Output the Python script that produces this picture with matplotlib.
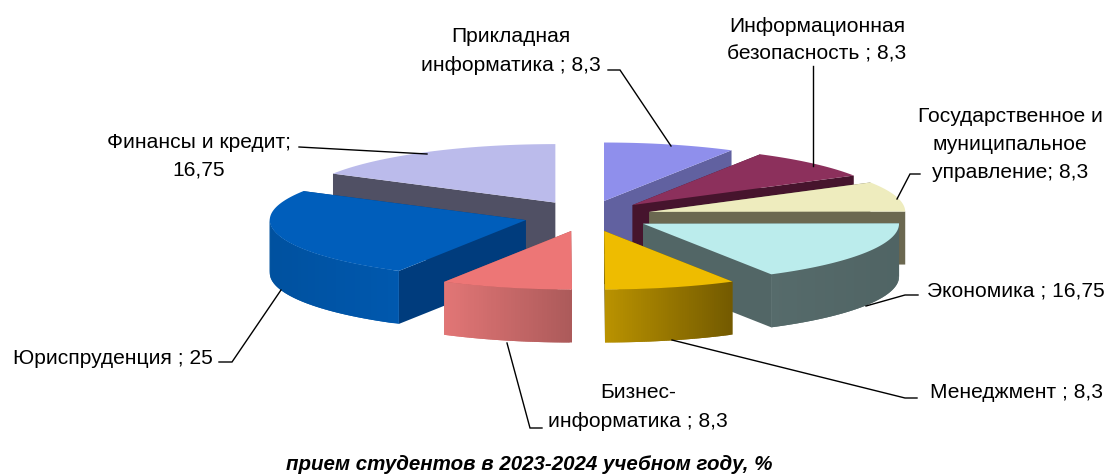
import numpy as np
import matplotlib
matplotlib.use("Agg")
import matplotlib.pyplot as plt
from matplotlib.patches import Polygon

plt.rcParams['font.family'] = ['Liberation Sans', 'DejaVu Sans']

# clockwise from 12 o'clock
names = ["Прикладная информатика", "Информационная безопасность",
         "Государственное и муниципальное управление", "Экономика",
         "Менеджмент", "Бизнес-информатика", "Юриспруденция", "Финансы и кредит"]
values = [8.3, 8.3, 8.3, 16.75, 8.3, 8.3, 25, 16.75]

top_colors = ["#8f8fec", "#8c305c", "#eeecbe", "#bbecec", "#eebc00", "#ed7676", "#005ebb", "#bbbbeb"]
cut_colors = ["#6161a0", "#46142d", "#6b6850", "#526666", "#776000", "#9c5050", "#003c7d", "#505064"]
rim_left = ["#6161a0", "#46142d", "#6b6850", "#566b6b", "#ba9200", "#e27676", "#00519f", "#505064"]
rim_right = ["#6161a0", "#46142d", "#6b6850", "#506464", "#735a00", "#ac5a5a", "#0058ae", "#505064"]

label_lines = [
    ["Прикладная", "информатика ; 8,3"],
    ["Информационная", "безопасность ; 8,3"],
    ["Государственное и", "муниципальное", "управление; 8,3"],
    ["Экономика ; 16,75"],
    ["Менеджмент ; 8,3"],
    ["Бизнес-", "информатика ; 8,3"],
    ["Юриспруденция ; 25"],
    ["Финансы и кредит;", "16,75"],
]
label_x = [511, 817, 1010, 1016, 1016, 638, 113, 199]
label_y = [37, 26, 116, 291, 393, 393, 358, 142]
leaders = [
    [(608, 70), (620, 70), (671, 146)],
    [(813, 66), (813, 166)],
    [(897, 199), (910, 174), (920, 174)],
    [(866, 306), (905, 295), (918, 295)],
    [(672, 340), (905, 398), (917, 398)],
    [(507, 343), (530, 428), (542, 428)],
    [(281, 290), (232, 362), (219, 362)],
    [(299, 147), (427, 154)],
]
title = "прием студентов в 2023-2024 учебном году, %"

# pie geometry, in pixels of the picture
cx, cy = 587.5, 216.0
rx, ry = 256.0, 58.5
ex, ey = 64.0, 15.5
depth = 53.0
# back to front
draw_order = [7, 0, 1, 2, 6, 3, 5, 4]


def rim_xy(tipx, tipy, a):
    return tipx + rx * np.sin(a), tipy - ry * np.cos(a)


def mix(c1, c2, t):
    c1 = np.array(matplotlib.colors.to_rgb(c1))
    c2 = np.array(matplotlib.colors.to_rgb(c2))
    return tuple(c1 + (c2 - c1) * t)


fig = plt.figure(figsize=(11.05, 4.75), dpi=100)
ax = fig.add_axes([0, 0, 1, 1])
ax.set_xlim(0, 1105)
ax.set_ylim(475, 0)
ax.axis("off")

edges = np.radians(np.cumsum([0] + values) / sum(values) * 360)

for z, i in enumerate(draw_order):
    a0, a1 = edges[i], edges[i + 1]
    mid = (a0 + a1) / 2
    tipx = cx + ex * np.sin(mid)
    tipy = cy - ey * np.cos(mid)
    zo = 2 + z

    # the two cut faces, the one further back first
    cut_edges = sorted([a0, a1], key=lambda a: rim_xy(tipx, tipy, a)[1])
    for a in cut_edges:
        ox, oy = rim_xy(tipx, tipy, a)
        pts = [(tipx, tipy), (ox, oy), (ox, oy + depth), (tipx, tipy + depth)]
        ax.add_patch(Polygon(pts, closed=True, fc=cut_colors[i], ec="none", zorder=zo))

    # outer rim as thin strips, shaded left to right; each strip runs over the next so no seams show
    aa = np.linspace(a0, a1, 60)
    xs, ys = rim_xy(tipx, tipy, aa)
    lo, hi = xs.min(), xs.max()
    order = np.argsort(xs)
    for k in range(len(aa) - 1):
        # only the front half of the rim can be seen
        if np.cos((aa[k] + aa[k + 1]) / 2) >= 0:
            continue
        t = ((xs[k] + xs[k + 1]) / 2 - lo) / (hi - lo)
        c = mix(rim_left[i], rim_right[i], t)
        j = min(k + 2, len(aa) - 1)
        pts = [(xs[k], ys[k]), (xs[j], ys[j]), (xs[j], ys[j] + depth), (xs[k], ys[k] + depth)]
        ax.add_patch(Polygon(pts, closed=True, fc=c, ec="none", zorder=zo))

    # top surface
    pts = [(tipx, tipy)] + list(zip(xs, ys))
    ax.add_patch(Polygon(pts, closed=True, fc=top_colors[i], ec="none", zorder=zo))

for line in leaders:
    lx, ly = zip(*line)
    ax.plot(lx, ly, color="black", lw=1.0, solid_joinstyle="miter", zorder=20)

for lines, x, y in zip(label_lines, label_x, label_y):
    for n, s in enumerate(lines):
        ax.text(x, y + n * 28.5, s, fontsize=15.1, ha="center", va="center", color="black", zorder=21)

ax.text(529, 464, title, fontsize=14.8, fontweight="bold", fontstyle="italic",
        ha="center", va="center", color="black")

fig.savefig("out.png", dpi=100)
